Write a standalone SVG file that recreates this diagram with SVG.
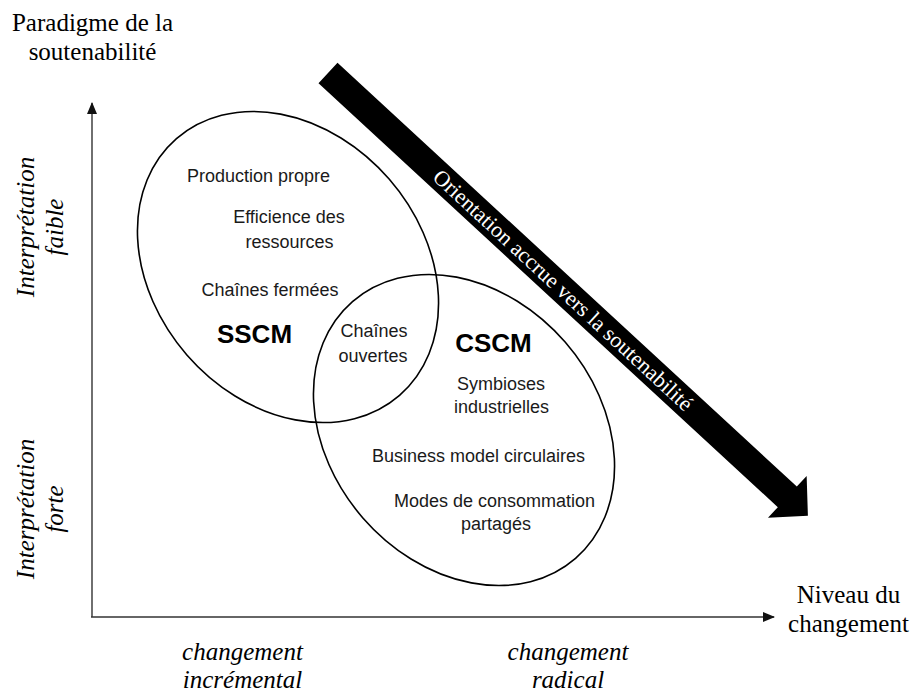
<svg xmlns="http://www.w3.org/2000/svg" width="913" height="696" viewBox="0 0 913 696">
<style>
.serif{font-family:"Liberation Serif","Times New Roman",serif;font-size:25px;fill:#000}
.it{font-style:italic}
.sans{font-family:"Liberation Sans",Arial,sans-serif;font-size:18px;fill:#1a1a1a}
.bold{font-family:"Liberation Sans",Arial,sans-serif;font-size:26px;font-weight:bold;fill:#000}
.axis{stroke:#333;stroke-width:1.4;fill:none}
.ell{stroke:#000;stroke-width:1.6;fill:none}
</style>
<defs>
<marker id="ah" viewBox="0 0 12 10" refX="11" refY="5" markerWidth="12" markerHeight="10" markerUnits="userSpaceOnUse" orient="auto">
<path d="M0,0 L12,5 L0,10 Z" fill="#111"/>
</marker>
</defs>
<rect width="913" height="696" fill="#fff"/>
<g id="axes">
<line class="axis" x1="92" y1="617" x2="92" y2="103" marker-end="url(#ah)"/>
<line class="axis" x1="91" y1="617" x2="774" y2="617" marker-end="url(#ah)"/>
</g>
<g id="labels">
<text class="serif" text-anchor="middle" x="92.5" y="31">Paradigme de la</text>
<text class="serif" text-anchor="middle" x="92.5" y="60">soutenabilité</text>
<text class="serif" text-anchor="middle" x="848.5" y="603">Niveau du</text>
<text class="serif" text-anchor="middle" x="848.5" y="632">changement</text>
<text class="serif it" text-anchor="middle" x="242.5" y="660">changement</text>
<text class="serif it" text-anchor="middle" x="242.5" y="688">incrémental</text>
<text class="serif it" text-anchor="middle" x="568" y="660">changement</text>
<text class="serif it" text-anchor="middle" x="568" y="688">radical</text>
<g transform="translate(0,227) rotate(-90)">
<text class="serif it" text-anchor="middle" x="0" y="34">Interprétation</text>
<text class="serif it" text-anchor="middle" x="0" y="63">faible</text>
</g>
<g transform="translate(0,509) rotate(-90)">
<text class="serif it" text-anchor="middle" x="0" y="34">Interprétation</text>
<text class="serif it" text-anchor="middle" x="0" y="63">forte</text>
</g>
</g>
<g id="trend-arrow" transform="translate(328,73) rotate(42.7)">
<polygon points="0,-14 625,-14 625,-28.5 653,0 625,28.5 625,14 0,14" fill="#000"/>
<text x="320" y="7.5" text-anchor="middle" font-family="Liberation Serif,'Times New Roman',serif" font-size="22" fill="#fff">Orientation accrue vers la soutenabilité</text>
</g>
<g id="sscm">
<ellipse class="ell" cx="288" cy="267" rx="170" ry="134" transform="rotate(49 288 267)"/>
<text class="sans" text-anchor="middle" x="258.5" y="182">Production propre</text>
<text class="sans" text-anchor="middle" x="289" y="223">Efficience des</text>
<text class="sans" text-anchor="middle" x="289.5" y="248">ressources</text>
<text class="sans" text-anchor="middle" x="270" y="296">Chaînes fermées</text>
<text class="bold" text-anchor="middle" x="254.5" y="343">SSCM</text>
</g>
<g id="cscm">
<ellipse class="ell" cx="464" cy="430" rx="170" ry="134" transform="rotate(49 464 430)"/>
<text class="bold" text-anchor="middle" x="493.5" y="352">CSCM</text>
<text class="sans" text-anchor="middle" x="501" y="390">Symbioses</text>
<text class="sans" text-anchor="middle" x="501.5" y="413">industrielles</text>
<text class="sans" text-anchor="middle" x="478.5" y="462">Business model circulaires</text>
<text class="sans" text-anchor="middle" x="494.5" y="507">Modes de consommation</text>
<text class="sans" text-anchor="middle" x="496" y="530">partagés</text>
</g>
<g id="overlap">
<text class="sans" text-anchor="middle" x="374" y="337">Chaînes</text>
<text class="sans" text-anchor="middle" x="373" y="362">ouvertes</text>
</g>
</svg>
